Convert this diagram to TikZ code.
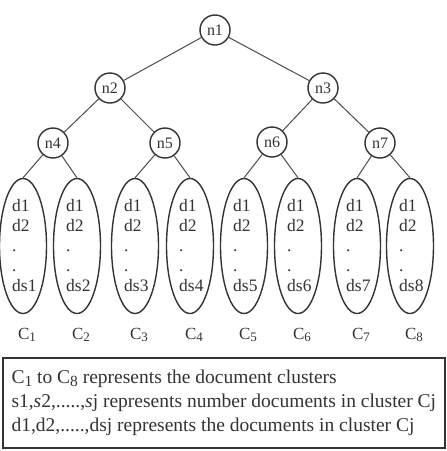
\documentclass[tikz,border=0pt]{standalone}
\usepackage{fontspec}
\setmainfont{Liberation Serif}
\usetikzlibrary{shapes.geometric}

\newcommand{\clab}[1]{C\raisebox{-.35ex}{\fontsize{13}{13}\selectfont #1}}
\newcommand{\blab}[1]{C\raisebox{-.35ex}{\fontsize{15.5}{16}\selectfont #1}}

\begin{document}
\begin{tikzpicture}[
		x=1pt, y=-1pt,
		every node/.style={text=black!80},
		treeNode/.style={circle,draw=black!80,line width=1.4pt,minimum size=30pt,inner sep=0pt,font=\fontsize{16}{18}\selectfont},
		clusterNode/.style={ellipse,draw=black!80,line width=1.4pt,minimum width=47pt,minimum height=135pt,inner sep=0pt},
		docText/.style={anchor=north west,align=left,inner sep=0pt,font=\fontsize{17.5}{20}\selectfont},
		labelText/.style={font=\fontsize{17}{18}\selectfont},
		boxText/.style={anchor=base west,font=\fontsize{19.5}{24}\selectfont},
		treeEdge/.style={draw=black!70,line width=1pt},
		]
		\useasboundingbox (0,0) rectangle (447,451);
		
		\node[treeNode] (n1) at (215,30) {n1};
		\node[treeNode] (n2) at (110,88) {n2};
		\node[treeNode] (n3) at (323,88) {n3};
		\node[treeNode] (n4) at (53,143) {n4};
		\node[treeNode] (n5) at (165,143) {n5};
		\node[treeNode] (n6) at (272,142) {n6};
		\node[treeNode] (n7) at (380,143) {n7};
		
		\draw[treeEdge] (n1) -- (n2);
		\draw[treeEdge] (n1) -- (n3);
		\draw[treeEdge] (n2) -- (n4);
		\draw[treeEdge] (n2) -- (n5);
		\draw[treeEdge] (n3) -- (n6);
		\draw[treeEdge] (n3) -- (n7);
		
		% document clusters
		\foreach \i/\x/\p in {1/23/n4, 2/77/n4, 3/135/n5, 4/190/n5, 5/244/n6, 6/298/n6, 7/357/n7, 8/410/n7}{
			\node[clusterNode] (c\i) at (\x,246) {};
			\node[docText] (t\i) at (\x-11,199) {d1\\d2\\.\\.\\ds\i};
			\node[labelText] (l\i) at (\x+4,335) {\clab{\i}};
			\draw[treeEdge] (\p) -- (c\i.north);
		}
		
		\draw[draw=black!80,line width=1.4pt] (3,358) rectangle (445,448);
		\node[boxText] (line1) at (8,383) {\blab{1} to \blab{8} represents the document clusters};
		\node[boxText] (line2) at (8,407) {s1,\textit{s}2,.....,\textit{s}j represents number documents in cluster Cj};
		\node[boxText] (line3) at (8,431) {d1,d2,.....,dsj represents the documents in cluster Cj};
	\end{tikzpicture}
\end{document}
